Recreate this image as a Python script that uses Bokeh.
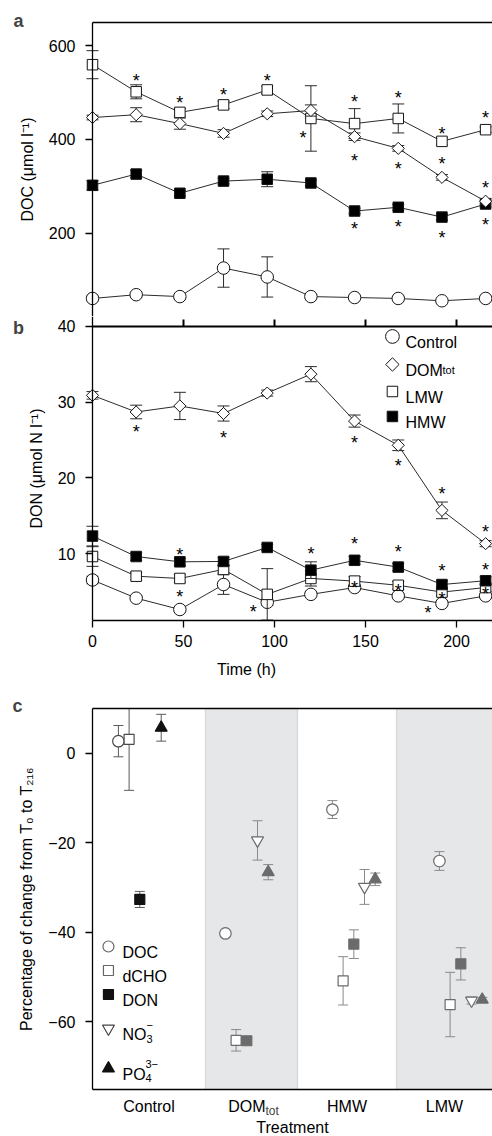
import math
from bokeh.plotting import figure
from bokeh.models import LinearAxis, FixedTicker, Range1d, Label, BoxAnnotation
from bokeh.layouts import column
from bokeh.embed import file_html
from bokeh.resources import INLINE
from bokeh.core.properties import value

FONT = "Liberation Sans"
FS = "16px"

# ---------------- data ----------------
time_h = [0, 24, 48, 72, 96, 120, 144, 168, 192, 216]
series_names = ["Control", "DOMtot", "LMW", "HMW"]

# panel a : DOC (umol/l)
doc_control = [60, 68, 64, 125, 106, 64, 62, 60, 55, 60]
doc_control_err = [5, 5, 5, 41, 43, 4, 4, 4, 4, 4]
doc_domtot = [447, 453, 434, 413, 455, 462, 406, 381, 319, 268]
doc_domtot_err = [5, 15, 12, 8, 6, 12, 8, 6, 6, 6]
doc_lmw = [560, 502, 458, 474, 506, 445, 434, 445, 396, 421]
doc_lmw_err = [30, 15, 8, 8, 8, 70, 32, 31, 8, 6]
doc_hmw = [302, 326, 285, 311, 315, 307, 247, 255, 234, 262]
doc_hmw_err = [10, 8, 6, 6, 16, 6, 6, 6, 6, 6]

# panel b : DON (umol N/l)
don_control = [6.5, 4.1, 2.6, 5.9, 3.55, 4.6, 5.5, 4.4, 3.4, 4.4]
don_control_err = [0.5, 0.3, 0.3, 1.3, 0.4, 0.3, 0.3, 0.3, 0.3, 0.3]
don_domtot = [30.9, 28.7, 29.5, 28.5, 31.2, 33.7, 27.5, 24.3, 15.7, 11.3]
don_domtot_err = [0.5, 0.9, 1.8, 1.0, 0.4, 1.0, 0.8, 0.7, 1.1, 0.4]
don_lmw = [9.6, 7.0, 6.7, 7.9, 4.6, 6.7, 6.35, 5.8, 4.9, 5.5]
don_lmw_err = [1.3, 0.5, 0.5, 0.5, 3.4, 1.0, 0.6, 0.5, 0.5, 0.5]
don_hmw = [12.3, 9.6, 8.9, 8.95, 10.8, 7.8, 9.1, 8.2, 5.9, 6.4]
don_hmw_err = [1.3, 0.5, 0.5, 0.5, 0.4, 1.1, 0.5, 0.5, 0.5, 0.5]

# panel c : percentage of change from T0 to T216
treatments = ["Control", "DOMtot", "HMW", "LMW"]
pc_doc = [2.7, -40.3, -12.6, -24.1]
pc_doc_err = [3.5, 0.6, 2.0, 2.1]
pc_dcho = [3.1, -64.2, -50.9, -56.2]
pc_dcho_err = [11.4, 2.4, 5.4, 7.2]
pc_don = [-32.7, -64.3, -42.7, -47.1]
pc_don_err = [1.8, 0.4, 3.2, 3.6]
pc_no3 = [float("nan"), -19.5, -29.9, -55.3]
pc_no3_err = [float("nan"), 4.4, 3.9, 0.8]
pc_po4 = [5.7, -26.6, -28.2, -55.1]
pc_po4_err = [3.0, 1.7, 1.4, 0.5]

# asterisks: (series, time index, dx px, dy px)
a_stars = [("LMW", 1, 0, -16), ("LMW", 2, 0, -14), ("LMW", 3, 0, -15), ("LMW", 4, 0, -14),
           ("LMW", 5, -8, 15), ("LMW", 6, 0, -27), ("LMW", 7, 0, -25), ("LMW", 8, 0, -12),
           ("LMW", 9, 0, -17),
           ("DOMtot", 6, 0, 19), ("DOMtot", 7, 0, 16), ("DOMtot", 8, 0, -18), ("DOMtot", 9, 0, -18),
           ("HMW", 6, 0, 13), ("HMW", 7, 0, 15), ("HMW", 8, 0, 16), ("HMW", 9, 0, 16)]
b_stars = [("DOMtot", 1, 0, 15), ("DOMtot", 3, 0, 19), ("DOMtot", 6, 0, 17), ("DOMtot", 7, 0, 16),
           ("DOMtot", 8, 0, -21), ("DOMtot", 9, 0, -17),
           ("HMW", 2, 0, -12), ("HMW", 5, 0, -21), ("HMW", 6, 0, -21), ("HMW", 7, 0, -20),
           ("HMW", 8, 0, -19), ("HMW", 9, 0, -16),
           ("Control", 2, 0, -17), ("Control", 4, -14, 5), ("Control", 8, -14, 5),
           ("LMW", 6, 0, 2), ("LMW", 7, 0, 1), ("LMW", 8, 0, 2), ("LMW", 9, 0, 1)]

STAR_CORR = 5
LINE_C = "#2b2b2b"

# ---------------- layout constants ----------------
W = 492
T_MIN, T_MAX = 0, 219.78
XR_T = (-50.55, T_MAX)          # frame spans full width; y axis drawn at t = 0
C_LO, C_HI = 0.458, 4.196
XR_C = (-0.4018, C_HI)


def make_fig(height, xr, yr, bottom=0):
    p = figure(width=W, height=height, x_range=Range1d(*xr), y_range=Range1d(*yr),
               x_axis_location=None, y_axis_location=None,
               output_backend="svg", toolbar_location=None,
               min_border_left=0, min_border_right=0,
               min_border_top=0, min_border_bottom=bottom)
    p.outline_line_color = None
    p.grid.visible = False
    p.background_fill_color = "white"
    p.border_fill_color = "white"
    return p


def add_axis(p, side, ticks, fixed=None, bounds="auto", tick_in=0, tick_out=7, lw=1.3,
             label=None, overrides=None, standoff=10, label_standoff=10, minor=None):
    ax = LinearAxis(ticker=FixedTicker(ticks=ticks, minor_ticks=minor or []))
    if fixed is not None:
        ax.fixed_location = fixed
    ax.bounds = bounds
    ax.axis_line_color = "black"
    ax.axis_line_width = lw
    ax.major_tick_line_color = "black"
    ax.major_tick_line_width = lw
    ax.major_tick_in = tick_in
    ax.major_tick_out = tick_out
    if minor:
        ax.minor_tick_line_color = "black"
        ax.minor_tick_line_width = lw
        ax.minor_tick_in = 0
        ax.minor_tick_out = 7
    else:
        ax.minor_tick_line_color = None
    ax.major_label_text_font = FONT
    ax.major_label_text_font_size = FS
    ax.major_label_text_color = "black"
    ax.major_label_standoff = standoff
    if overrides:
        ax.major_label_overrides = overrides
    if label:
        ax.axis_label = label
        ax.axis_label_text_font = FONT
        ax.axis_label_text_font_size = FS
        ax.axis_label_text_font_style = "normal"
        ax.axis_label_text_color = "black"
        ax.axis_label_standoff = label_standoff
    p.add_layout(ax, side)
    return ax


def errbars(p, x, y, e, color, cap, lw=1):
    lo = [a - b for a, b in zip(y, e)]
    hi = [a + b for a, b in zip(y, e)]
    p.segment(x0=x, y0=lo, x1=x, y1=hi, line_color=color, line_width=lw)
    p.scatter(x, hi, marker="dash", size=cap, line_color=color, line_width=lw)
    p.scatter(x, lo, marker="dash", size=cap, line_color=color, line_width=lw)


STYLE = {
    "Control": dict(marker="circle", size=12.5, angle=0, fill="white"),
    "DOMtot": dict(marker="square", size=8.6, angle=math.pi / 4, fill="white"),
    "LMW": dict(marker="square", size=10.5, angle=0, fill="white"),
    "HMW": dict(marker="square", size=10.5, angle=0, fill="black"),
}


def draw_series(p, name, y, e):
    st = STYLE[name]
    p.line(time_h, y, line_color=LINE_C, line_width=1)
    errbars(p, time_h, y, e, LINE_C, 12)
    p.scatter(time_h, y, marker=st["marker"], size=st["size"], angle=st["angle"],
              fill_color=st["fill"], line_color="#151515", line_width=1)


def draw_stars(p, stars, data):
    xs, ys, dx, dy = [], [], [], []
    for name, i, ox, oy in stars:
        xs.append(time_h[i])
        ys.append(data[name][i])
        dx.append(ox)
        dy.append(oy + STAR_CORR)
    p.text(x=xs, y=ys, text=["*"] * len(xs), x_offset=dx, y_offset=dy,
           text_font=value(FONT), text_font_size="18px", text_align="center",
           text_baseline="middle", text_color="black")


def panel_letter(p, x, y, t):
    p.add_layout(Label(x=x, y=y, text=t, text_font=FONT, text_font_size="18px",
                       text_font_style="bold", text_align="center", text_baseline="middle"))


# ---------------- panel a ----------------
pa = make_fig(316, XR_T, (21.4, 697.3))
add_axis(pa, "left", [200, 400, 600], fixed=T_MIN, bounds=(0, 650), label="DOC (μmol l⁻¹)")
add_axis(pa, "above", [], fixed=650, bounds=(T_MIN, T_MAX), tick_out=0)
a_data = {"Control": doc_control, "DOMtot": doc_domtot, "LMW": doc_lmw, "HMW": doc_hmw}
draw_series(pa, "Control", doc_control, doc_control_err)
draw_series(pa, "HMW", doc_hmw, doc_hmw_err)
draw_series(pa, "LMW", doc_lmw, doc_lmw_err)
draw_series(pa, "DOMtot", doc_domtot, doc_domtot_err)
draw_stars(pa, a_stars, a_data)
panel_letter(pa, -40.7, 654.5, "a")

# ---------------- panel b ----------------
pb = make_fig(374, XR_T, (1.146, 41.32), bottom=70)
add_axis(pb, "left", [10, 20, 30, 40], fixed=T_MIN, bounds=(1.146, 41.32),
         label="DON (μmol N l⁻¹)")
add_axis(pb, "above", [], fixed=40, bounds=(T_MIN, T_MAX), tick_out=0, lw=2,
         minor=[50, 100, 150, 200])
add_axis(pb, "below", [0, 50, 100, 150, 200], bounds=(T_MIN, T_MAX), tick_out=7,
         label="Time (h)", standoff=7, label_standoff=11)
b_data = {"Control": don_control, "DOMtot": don_domtot, "LMW": don_lmw, "HMW": don_hmw}
draw_series(pb, "Control", don_control, don_control_err)
draw_series(pb, "LMW", don_lmw, don_lmw_err)
draw_series(pb, "HMW", don_hmw, don_hmw_err)
draw_series(pb, "DOMtot", don_domtot, don_domtot_err)
draw_stars(pb, b_stars, b_data)
panel_letter(pb, -40.7, 39.74, "b")

# legend b
leg_b_x, leg_b_tx = 164.8, 172.0
leg_b_y = [38.68, 34.98, 31.41, 28.11]
for name, yy in zip(series_names, leg_b_y):
    st = STYLE[name]
    sz = st["size"] * (1.1 if name in ("Control", "DOMtot") else 1.0)
    pb.scatter([leg_b_x], [yy], marker=st["marker"], size=sz, angle=st["angle"],
               fill_color=st["fill"], line_color="#151515", line_width=1)
pb.text(x=[leg_b_tx] * 4, y=leg_b_y, text=["Control", "DOM", "LMW", "HMW"], y_offset=6,
        text_font=value(FONT), text_font_size=FS, text_baseline="alphabetic",
        text_align="left", text_color="black")
pb.text(x=[leg_b_tx], y=[leg_b_y[1]], text=["tot"], x_offset=37, y_offset=6,
        text_font=value(FONT), text_font_size="11px", text_baseline="alphabetic",
        text_align="left", text_color="black")

# ---------------- panel c ----------------
C_YLO, C_YHI = -75.2, 10
pc = make_fig(446, XR_C, (-85.71, 14.025))
band_edges = [1.514, 2.374, 3.299]
pc.add_layout(BoxAnnotation(left=band_edges[0], right=band_edges[1], top=C_YHI, bottom=C_YLO,
                            fill_color="#e6e7e9", fill_alpha=1, line_color=None, level="underlay"))
pc.add_layout(BoxAnnotation(left=band_edges[2], right=C_HI, top=C_YHI, bottom=C_YLO,
                            fill_color="#e6e7e9", fill_alpha=1, line_color=None, level="underlay"))
for be in band_edges:
    pc.add_layout(BoxAnnotation(left=be, right=be, top=C_YHI, bottom=C_YLO, fill_alpha=0,
                                line_color="#9c9c9c", line_width=1.3, level="underlay"))
edges = [C_LO] + band_edges + [C_HI]
tick_pos = [(edges[i] + edges[i + 1]) / 2 for i in range(4)]
tick_pos[1] = 1.90
add_axis(pc, "left", [-60, -40, -20, 0], fixed=C_LO, bounds=(C_YLO, C_YHI),
         overrides={0: "0", -20: "−20", -40: "−40", -60: "−60"},
         label="Percentage of change from T₀ to T₂₁₆")
add_axis(pc, "below", tick_pos, fixed=C_YLO, bounds=(C_LO, C_HI), tick_out=0,
         label="Treatment",
         overrides={tick_pos[0]: "Control", tick_pos[1]: "DOM", tick_pos[2]: "HMW",
                    tick_pos[3]: "LMW"}, standoff=8, label_standoff=1)
add_axis(pc, "above", [], fixed=C_YHI, bounds=(C_LO, C_HI), tick_out=0)
pc.add_layout(Label(x=2.075, y=-79.9, text="tot", text_font=FONT, text_font_size="12px",
                    text_align="left", text_baseline="alphabetic"))
panel_letter(pc, -0.243, 10.45, "c")

treat_pos = [1, 2, 3, 4]
CTRL_OPEN, CTRL_FILL, TRT_C = "#4a4a4a", "#111111", "#6b6b6b"
ERR_CTRL, ERR_TRT = "#5a5a5a", "#8a8a8a"
c_vars = [
    (pc_doc, pc_doc_err, "circle", False, -0.30, 11.5),
    (pc_dcho, pc_dcho_err, "square", False, -0.20, 10),
    (pc_don, pc_don_err, "square", True, -0.10, 10),
    (pc_no3, pc_no3_err, "inverted_triangle", False, 0.0, 12),
    (pc_po4, pc_po4_err, "triangle", True, 0.10, 12),
]
for vals, errs, mk, filled, off, sz in c_vars:
    xs = [tp + off for tp in treat_pos]
    ecol = [ERR_CTRL] + [ERR_TRT] * 3
    for i in range(4):
        hi = vals[i] + errs[i]
        e_hi = min(hi, C_YHI) - vals[i] if hi == hi else errs[i]
        lo = [vals[i] - errs[i]]
        pc.segment(x0=[xs[i]], y0=lo, x1=[xs[i]], y1=[vals[i] + e_hi],
                   line_color=ecol[i], line_width=1)
        pc.scatter([xs[i]], lo, marker="dash", size=10, line_color=ecol[i], line_width=1)
        if hi == hi and hi <= C_YHI:
            pc.scatter([xs[i]], [hi], marker="dash", size=10, line_color=ecol[i], line_width=1)
    if filled:
        cols = [CTRL_FILL] + [TRT_C] * 3
        fills = cols
    else:
        cols = [CTRL_OPEN] + [TRT_C] * 3
        fills = ["white"] * 4
    pc.scatter(xs, vals, marker=mk, size=sz, fill_color=fills, line_color=cols, line_width=1.2)

# legend c
leg_c_x, leg_c_tx = 0.607, 0.738
leg_c_y = [-43.22, -48.59, -53.96, -61.56, -70.5]
leg_c = [("circle", "white", "#666666", 11), ("square", "white", "#666666", 10),
         ("square", "#111111", "#111111", 10), ("inverted_triangle", "white", "#444444", 12),
         ("triangle", "#111111", "#111111", 12)]
for (mk, fc, lc, sz), yy in zip(leg_c, leg_c_y):
    pc.scatter([leg_c_x], [yy], marker=mk, size=sz, fill_color=fc, line_color=lc, line_width=1.2)
pc.text(x=[leg_c_tx] * 5, y=leg_c_y, text=["DOC", "dCHO", "DON", "NO", "PO"], y_offset=6,
        text_font=value(FONT), text_font_size=FS, text_baseline="alphabetic",
        text_align="left", text_color="black")
pc.text(x=[leg_c_tx] * 2, y=[leg_c_y[3], leg_c_y[4]], text=["3", "4"], x_offset=[24, 23],
        y_offset=[10, 10], text_font=value(FONT), text_font_size="11px",
        text_baseline="alphabetic", text_align="left", text_color="black")
pc.text(x=[leg_c_tx] * 2, y=[leg_c_y[3], leg_c_y[4]], text=["−", "3−"], x_offset=[24, 23],
        y_offset=[-4, -4], text_font=value(FONT), text_font_size="11px",
        text_baseline="alphabetic", text_align="left", text_color="black")

layout = column(pa, pb, pc, spacing=0)
open("out.html", "w").write(file_html(layout, INLINE))
